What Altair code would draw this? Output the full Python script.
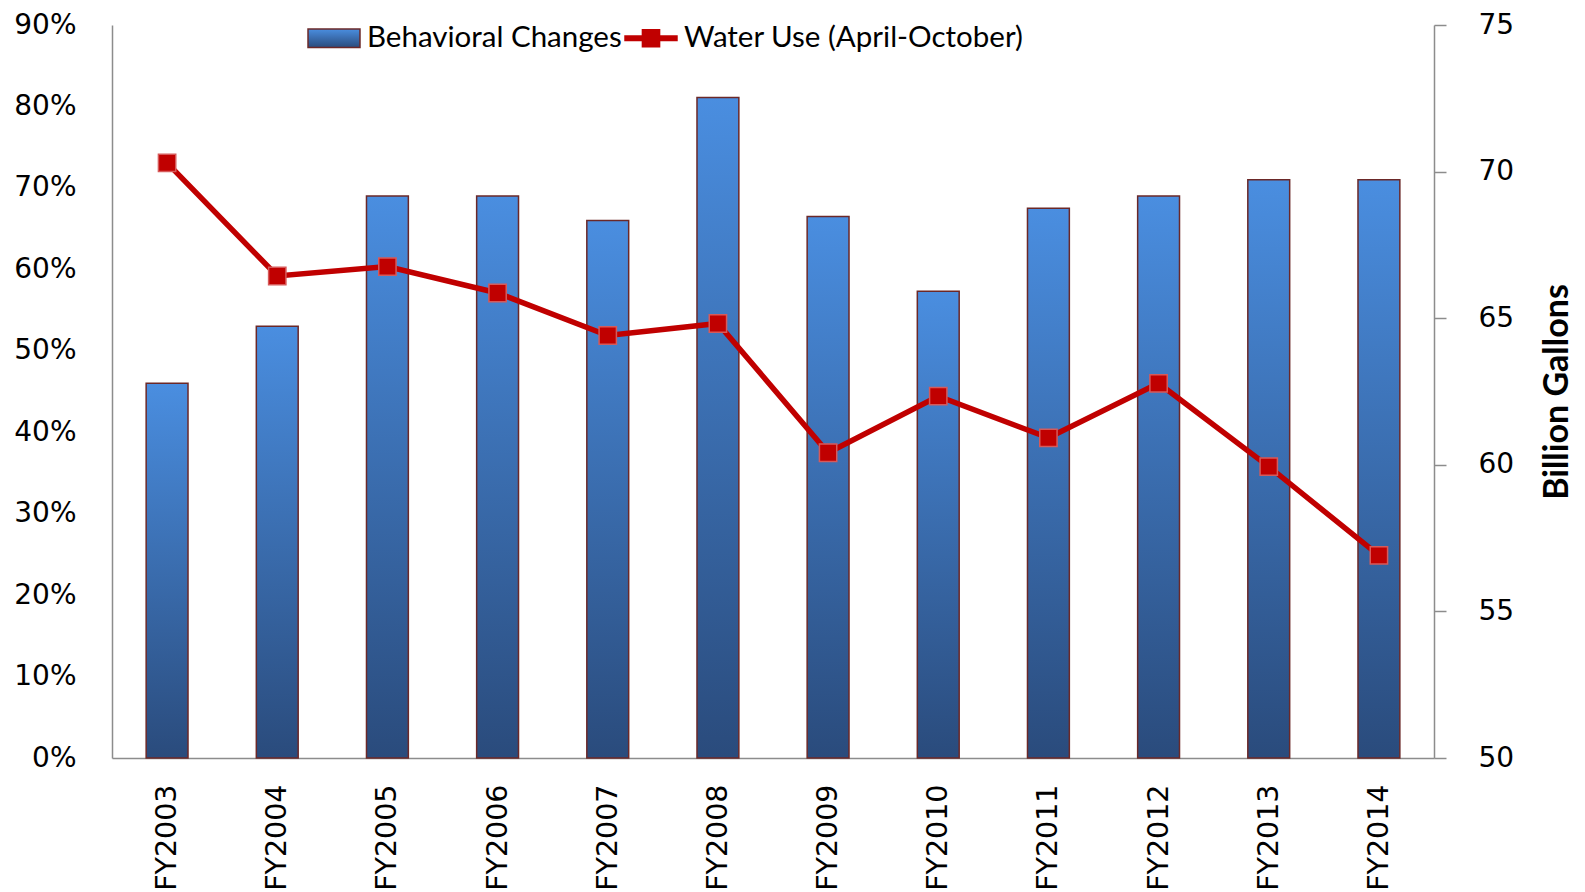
import altair as alt
import pandas as pd

years = ["FY2003", "FY2004", "FY2005", "FY2006", "FY2007", "FY2008",
         "FY2009", "FY2010", "FY2011", "FY2012", "FY2013", "FY2014"]
behavioral = [0.460, 0.530, 0.690, 0.690, 0.660, 0.811,
              0.665, 0.573, 0.675, 0.690, 0.710, 0.710]
water_use = [70.30, 66.44, 66.76, 65.86, 64.41, 64.82,
             60.41, 62.34, 60.92, 62.78, 59.94, 56.91]

bar_name = "Behavioral Changes"
line_name = "Water Use (April-October)"

bars_df = pd.DataFrame({"year": years, "value": behavioral})
line_df = pd.DataFrame({"year": years, "water": water_use, "series": [line_name] * len(years)})

grad = alt.Gradient(
    gradient="linear",
    stops=[alt.GradientStop(color="#4A8EE0", offset=0),
           alt.GradientStop(color="#2A4B7C", offset=1)],
    x1=0, x2=0, y1=0, y2=1,
)

TICK_FONT = "DejaVu Sans"

xscale = alt.Scale(paddingInner=0.62, paddingOuter=0.31)
xaxis = alt.Axis(title=None, labelAngle=270, ticks=False, tickSize=0, labelPadding=26,
                 domainColor="#8C8C8C", domainWidth=1.5, grid=False,
                 labelFont=TICK_FONT, labelFontSize=28.5, labelColor="#000000")

bars = alt.Chart(bars_df).mark_bar(
    fill=grad, stroke="#6B2828", strokeWidth=1.5
).encode(
    x=alt.X("year:N", sort=years, scale=xscale, axis=xaxis),
    y=alt.Y("value:Q", scale=alt.Scale(domain=[0, 0.9], nice=False),
            axis=alt.Axis(title=None, format=".0%", values=[i / 10 for i in range(10)],
                          orient="left", ticks=False, tickSize=0, labelPadding=36,
                          domainColor="#8C8C8C", domainWidth=1.5, grid=False,
                          labelFont=TICK_FONT, labelFontSize=28, labelColor="#000000")),
)

is_bar = "datum.value === '" + bar_name + "'"
legend = alt.Legend(
    title=None, orient="none", legendX=195, legendY=-14, direction="horizontal",
    symbolSize=2700, labelFont="Lato", labelFontSize=29.5, labelColor="#000000",
    labelOffset=6, columnPadding=0, padding=0, labelLimit=600,
    symbolType=alt.ExprRef(expr=is_bar + " ? 'M-1,-0.36H1V0.36H-1Z' : 'M-1,-0.09H1V0.09H-1ZM-0.33,-0.33H0.33V0.33H-0.33Z'"),
    symbolFillColor=alt.ExprRef(expr=is_bar + " ? {gradient: 'linear', x1: 0, y1: 0, x2: 0, y2: 1, stops: [{offset: 0, color: '#4A8EE0'}, {offset: 1, color: '#2A4B7C'}]} : '#C00000'"),
    symbolStrokeWidth=1.5,
    symbolOpacity=1,
)

right_axis = alt.Axis(title="Billion Gallons", orient="right", values=[50, 55, 60, 65, 70, 75],
                      tickSize=12, tickColor="#8C8C8C", tickWidth=1.5, labelPadding=32,
                      domainColor="#8C8C8C", domainWidth=1.5, grid=False,
                      labelFont=TICK_FONT, labelFontSize=28, labelColor="#000000",
                      titleAngle=270, titleFont="Lato", titleFontSize=34, titleFontWeight="bold",
                      titlePadding=61, titleColor="#000000")
yscale_r = alt.Scale(domain=[50, 75], nice=False)

line = alt.Chart(line_df).mark_line().encode(
    x=alt.X("year:N", sort=years, scale=xscale, axis=xaxis),
    y=alt.Y("water:Q", scale=yscale_r, axis=right_axis),
    color=alt.Color("series:N", scale=alt.Scale(domain=[bar_name, line_name],
                                                range=["#6B2828", "#C00000"]), legend=legend),
    strokeWidth=alt.value(5.5),
)

points = alt.Chart(line_df).mark_point(
    shape="square", filled=True, size=300, fill="#C00000", stroke="#D65A5A",
    strokeWidth=1.5, opacity=1
).encode(
    x=alt.X("year:N", sort=years, scale=xscale, axis=xaxis),
    y=alt.Y("water:Q", scale=yscale_r, axis=right_axis),
)

chart = alt.layer(bars, alt.layer(line, points)).resolve_scale(y="independent").properties(
    width=1322, height=733, background="#FFFFFF",
    padding={"left": 5, "top": 3, "right": 0, "bottom": 0}
).configure_view(strokeWidth=0, stroke="transparent")

chart.save("out.html", embed_options={"renderer": "svg", "actions": False})
